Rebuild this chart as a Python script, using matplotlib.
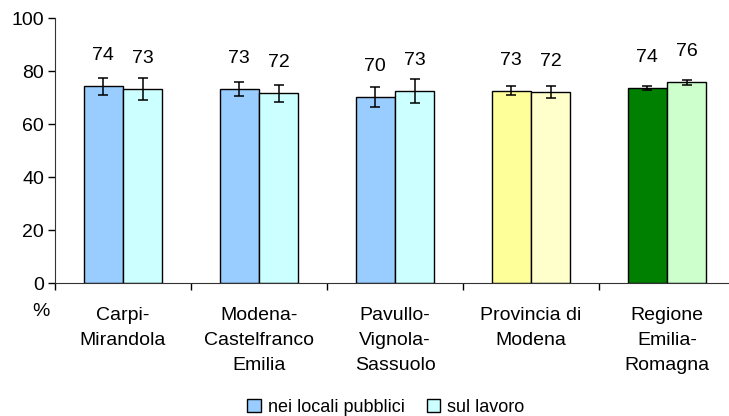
import numpy as np
import matplotlib.pyplot as plt
from matplotlib.patches import Patch

plt.rcParams['font.family'] = ['Liberation Sans', 'DejaVu Sans']

categories = ['Carpi-\nMirandola', 'Modena-\nCastelfranco\nEmilia', 'Pavullo-\nVignola-\nSassuolo',
              'Provincia di\nModena', 'Regione\nEmilia-\nRomagna']
locali = [74.3, 73.3, 70.3, 72.7, 73.8]
locali_err = [3.3, 2.7, 3.8, 1.8, 0.8]
lavoro = [73.3, 71.7, 72.7, 72.2, 75.8]
lavoro_err = [4.0, 3.3, 4.5, 2.3, 0.9]

col_locali = ['#99CCFF', '#99CCFF', '#99CCFF', '#FFFF99', '#008000']
col_lavoro = ['#CCFFFF', '#CCFFFF', '#CCFFFF', '#FFFFCC', '#CCFFCC']

fig = plt.figure(figsize=(7.29, 4.16), dpi=100)
ax = fig.add_axes([55/729, 1 - 283.3/416, 680/729, (283.3 - 18.3)/416])

x = np.arange(len(categories))
w = 0.29
ax.bar(x - w/2, locali, w, color=col_locali, edgecolor='black', linewidth=1, zorder=2)
ax.bar(x + w/2, lavoro, w, color=col_lavoro, edgecolor='black', linewidth=1, zorder=2)
ax.errorbar(x - w/2, locali, yerr=locali_err, fmt='none', ecolor='black',
            elinewidth=1.1, capsize=3.5, capthick=1.1, zorder=3)
ax.errorbar(x + w/2, lavoro, yerr=lavoro_err, fmt='none', ecolor='black',
            elinewidth=1.1, capsize=3.5, capthick=1.1, zorder=3)

for xi, v in zip(x - w/2, locali):
    ax.text(xi, v + 11.5, '%d' % round(v), ha='center', va='center', fontsize=14)
for xi, v in zip(x + w/2, lavoro):
    ax.text(xi, v + 11.5, '%d' % round(v), ha='center', va='center', fontsize=14)

ax.set_xlim(-0.5, 4.5)
ax.set_ylim(0, 100)
ax.set_yticks(range(0, 101, 20))
ax.tick_params(axis='y', labelsize=14, length=5, width=1, pad=3)
ax.set_xticks(x)
ax.set_xticklabels(categories, fontsize=14, linespacing=1.6)
ax.tick_params(axis='x', length=0, pad=17)
ax.set_xticks(np.arange(-0.5, 5, 1), minor=True)
ax.tick_params(axis='x', which='minor', length=5, width=1)

for s in ['top', 'right']:
    ax.spines[s].set_visible(False)
for s in ['left', 'bottom']:
    ax.spines[s].set_color('#333333')

fig.text(40.7/729, 1 - 311.7/416, '%', ha='center', va='center', fontsize=14)

handles = [Patch(facecolor='#99CCFF', edgecolor='black', label='nei locali pubblici'),
           Patch(facecolor='#CCFFFF', edgecolor='black', label='sul lavoro')]
fig.legend(handles=handles, loc='center', bbox_to_anchor=(386/729, 1 - 407/416), ncol=2,
           frameon=False, fontsize=13, handlelength=0.75, handleheight=0.75,
           handletextpad=0.4, columnspacing=1.2)

plt.savefig('out.png', dpi=100)
